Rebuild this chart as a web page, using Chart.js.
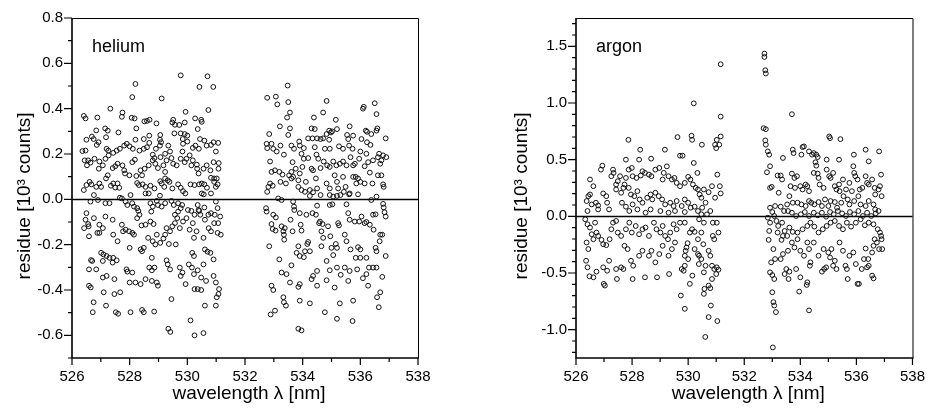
<!DOCTYPE html>
<html><head><meta charset="utf-8">
<script src="https://cdn.jsdelivr.net/npm/chart.js@4.4.1/dist/chart.umd.min.js"></script>
<style>
html,body{margin:0;padding:0;background:#fff;}
#wrap{position:relative;width:935px;height:414px;overflow:hidden;background:#fff;}
.panel{position:absolute;top:0;height:414px;}
</style></head><body>
<div id="wrap">
<div class="panel" style="left:0;width:467px"><canvas id="c1" width="467" height="414"></canvas></div>
<div class="panel" style="left:467px;width:468px"><canvas id="c2" width="468" height="414"></canvas></div>
</div>
<script>
// ---- tick labels ----
const xTicks = [526, 528, 530, 532, 534, 536, 538];
const heliumYTicks = [-0.6, -0.4, -0.2, 0.0, 0.2, 0.4, 0.6, 0.8];
const argonYTicks = [-1.0, -0.5, 0.0, 0.5, 1.0, 1.5];
const xTitle = 'wavelength λ [nm]';
const yTitle = 'residue [10³ counts]';

// ---- helium residues [wavelength nm, residue 10^3 counts] ----
const heliumLeft = [
[529.77,0.547],[530.70,0.543],[528.20,0.509],[530.42,0.496],[530.90,0.496],[528.09,0.451],[529.11,0.445],[527.33,0.400],[530.73,0.394],[529.94,0.386],
[526.41,0.368],[526.47,0.357],[526.88,0.361],[527.75,0.383],[527.73,0.364],[528.07,0.360],[528.17,0.357],[528.51,0.344],[528.60,0.346],[528.69,0.351],
[528.93,0.335],[529.51,0.351],[529.48,0.339],[529.57,0.329],[529.72,0.328],[529.91,0.339],[530.48,0.351],[530.50,0.342],[530.27,0.357],[530.36,0.310],
[529.55,0.291],[529.77,0.291],[529.91,0.288],[530.00,0.281],[529.84,0.266],[529.06,0.284],[529.05,0.263],[528.68,0.281],[528.49,0.266],[528.20,0.263],
[528.23,0.313],[527.15,0.313],[527.61,0.295],[527.24,0.303],[526.84,0.304],[526.69,0.277],[526.75,0.266],[527.18,0.274],[526.50,0.263],[526.36,0.213],
[526.47,0.215],[526.86,0.240],[526.92,0.252],[527.20,0.223],[527.26,0.215],[527.27,0.194],[527.43,0.205],[527.55,0.215],[527.66,0.223],[527.81,0.237],
[527.90,0.245],[528.00,0.234],[528.11,0.223],[528.34,0.215],[528.49,0.223],[528.60,0.230],[528.68,0.249],[528.80,0.197],[528.91,0.223],[529.05,0.237],
[529.09,0.252],[529.23,0.201],[529.40,0.211],[529.34,0.237],[529.83,0.211],[529.85,0.245],[530.00,0.255],[530.19,0.227],[530.28,0.237],[530.40,0.223],
[530.44,0.266],[530.59,0.259],[530.67,0.237],[530.91,0.252],[531.07,0.249],[530.82,0.240],[530.99,0.211],[526.44,0.172],[526.56,0.172],[526.52,0.150],
[526.64,0.162],[526.78,0.179],[526.95,0.167],[527.07,0.150],[527.16,0.179],[526.93,0.135],[527.41,0.138],[527.50,0.146],[527.58,0.157],[527.75,0.150],
[527.81,0.128],[527.84,0.114],[527.99,0.106],[528.09,0.164],[528.18,0.175],[528.38,0.128],[528.43,0.106],[528.52,0.135],[528.66,0.150],[528.80,0.172],
[528.86,0.182],[528.89,0.157],[528.98,0.138],[529.07,0.186],[529.17,0.150],[529.28,0.172],[529.23,0.121],[529.45,0.182],[529.51,0.157],[529.63,0.150],
[529.77,0.179],[529.91,0.164],[529.97,0.179],[530.08,0.194],[530.19,0.172],[530.14,0.150],[530.33,0.153],[530.34,0.135],[530.39,0.114],[530.56,0.135],
[530.67,0.150],[530.80,0.128],[530.91,0.164],[531.09,0.160],[530.93,0.092],[531.02,0.092],[531.08,0.135],[526.41,0.041],[526.50,0.063],[526.61,0.077],
[526.67,0.066],[526.84,0.055],[526.95,0.070],[527.01,0.055],[527.18,0.092],[527.24,0.106],[527.35,0.060],[527.43,0.070],[527.50,0.052],[527.58,0.070],
[527.64,0.051],[526.76,0.019],[526.64,-0.010],[528.23,0.103],[528.32,0.063],[528.26,0.072],[528.45,0.066],[528.55,0.055],[528.72,0.060],[528.66,0.026],
[528.86,0.048],[529.06,0.080],[529.11,0.070],[529.20,0.055],[529.23,0.092],[529.32,0.084],[529.38,0.077],[529.48,0.048],[529.68,0.066],[529.77,0.051],
[529.85,0.036],[529.93,0.026],[530.11,0.066],[530.25,0.063],[530.41,0.066],[530.50,0.070],[530.59,0.066],[530.68,0.051],[530.82,0.095],[530.93,0.077],
[530.99,0.055],[531.05,0.066],[530.57,0.022],[530.50,0.026],[530.82,0.026],[529.05,0.016],[528.55,0.026],[527.66,0.007],[528.03,0.019],[526.90,-0.003],
[527.16,-0.017],[527.30,-0.017],[527.73,0.004],[527.86,-0.010],[527.92,-0.025],[528.09,-0.017],[528.15,-0.032],[528.26,-0.039],[528.30,-0.051],[528.34,-0.068],
[528.72,-0.017],[528.80,-0.032],[528.75,-0.054],[528.94,-0.007],[528.98,-0.025],[529.11,-0.032],[529.23,-0.017],[529.45,-0.007],[529.53,-0.025],[529.68,-0.017],
[529.77,-0.039],[529.68,-0.054],[529.57,-0.068],[529.82,-0.025],[530.02,-0.047],[530.14,-0.051],[530.25,-0.068],[530.36,-0.025],[530.41,-0.051],[530.45,-0.068],
[530.59,-0.036],[530.73,-0.068],[530.82,-0.061],[530.95,-0.068],[530.99,-0.010],[531.05,-0.039],[531.14,-0.076],[531.07,-0.105],[526.50,-0.061],[526.47,-0.090],
[526.56,-0.109],[526.42,-0.127],[526.58,-0.119],[526.76,-0.083],[526.95,-0.112],[527.07,-0.127],[526.95,-0.148],[526.88,-0.148],[526.59,-0.163],[527.16,-0.076],
[527.41,-0.090],[527.43,-0.156],[527.58,-0.185],[527.73,-0.112],[527.77,-0.141],[527.86,-0.134],[527.98,-0.141],[528.09,-0.148],[528.15,-0.156],[528.26,-0.083],
[528.41,-0.115],[528.55,-0.112],[528.72,-0.098],[528.83,-0.109],[528.64,-0.170],[528.80,-0.185],[528.94,-0.156],[529.06,-0.192],[529.17,-0.173],[529.23,-0.156],
[529.28,-0.127],[529.40,-0.141],[529.48,-0.119],[529.57,-0.105],[529.65,-0.083],[529.74,-0.127],[529.85,-0.098],[529.97,-0.083],[530.08,-0.134],[530.19,-0.105],
[530.23,-0.170],[530.39,-0.047],[530.61,-0.090],[530.74,-0.127],[530.82,-0.141],[530.93,-0.105],[531.05,-0.148],[531.16,-0.156],[530.56,-0.170],[530.32,-0.141],
[529.36,-0.197],[529.60,-0.199],[528.49,-0.214],[528.89,-0.199],[528.00,-0.214],[528.38,-0.221],[528.43,-0.229],[527.01,-0.236],[527.09,-0.243],[527.20,-0.250],
[527.30,-0.258],[527.43,-0.258],[527.55,-0.269],[527.41,-0.279],[526.66,-0.268],[526.70,-0.272],[526.59,-0.309],[526.84,-0.309],[527.07,-0.272],[527.20,-0.338],
[527.07,-0.345],[527.47,-0.352],[527.89,-0.309],[527.92,-0.319],[528.09,-0.323],[528.20,-0.367],[528.38,-0.374],[528.00,-0.367],[528.55,-0.352],[528.68,-0.301],
[528.77,-0.313],[528.86,-0.301],[528.77,-0.258],[528.77,-0.360],[528.94,-0.367],[528.98,-0.381],[529.28,-0.269],[529.32,-0.287],[529.40,-0.309],[529.74,-0.301],
[529.83,-0.323],[529.77,-0.338],[529.94,-0.374],[530.17,-0.236],[530.23,-0.250],[530.05,-0.287],[530.16,-0.301],[530.23,-0.330],[530.36,-0.313],[530.48,-0.345],
[530.56,-0.287],[530.61,-0.221],[530.70,-0.231],[530.80,-0.236],[530.91,-0.265],[530.99,-0.367],[530.91,-0.338],[531.10,-0.396],[530.65,-0.360],[530.36,-0.396],
[530.48,-0.400],[530.25,-0.396],[526.65,-0.389],[526.59,-0.381],[526.75,-0.454],[526.72,-0.498],[527.10,-0.410],[527.18,-0.469],[527.47,-0.418],[527.67,-0.410],
[527.52,-0.498],[527.60,-0.505],[528.03,-0.498],[528.43,-0.488],[528.49,-0.498],[528.85,-0.495],[529.45,-0.440],[529.34,-0.571],[529.41,-0.585],[530.11,-0.534],
[530.25,-0.600],[530.56,-0.590],[530.61,-0.469],[530.99,-0.469],[531.02,-0.432],[531.08,-0.418]
];
const heliumRight = [
[533.48,0.502],[532.77,0.448],[533.07,0.453],[533.12,0.419],[533.50,0.429],[534.83,0.434],[533.56,0.383],[533.46,0.361],[534.39,0.361],[534.71,0.383],
[536.12,0.408],[536.09,0.400],[536.50,0.424],[536.56,0.376],[535.15,0.351],[533.21,0.322],[533.56,0.313],[534.31,0.313],[534.42,0.310],[535.63,0.322],
[534.92,0.303],[534.98,0.295],[535.19,0.310],[536.19,0.303],[536.23,0.298],[536.59,0.313],[536.56,0.303],[536.38,0.288],[532.84,0.288],[533.50,0.284],
[532.75,0.245],[532.77,0.226],[532.92,0.245],[532.98,0.223],[533.10,0.211],[533.23,0.237],[533.35,0.197],[533.61,0.237],[533.70,0.223],[533.88,0.255],
[533.90,0.237],[534.04,0.226],[533.96,0.201],[534.19,0.269],[534.34,0.269],[534.50,0.269],[534.62,0.266],[534.71,0.269],[534.83,0.288],[535.02,0.300],
[534.92,0.263],[534.77,0.223],[534.94,0.223],[534.42,0.230],[534.48,0.197],[535.26,0.234],[535.40,0.223],[535.54,0.284],[535.58,0.266],[535.75,0.281],
[535.61,0.237],[535.73,0.223],[536.04,0.266],[536.23,0.252],[536.00,0.211],[536.21,0.201],[536.35,0.240],[536.65,0.201],[536.73,0.172],[536.79,0.194],
[536.88,0.269],[536.90,0.186],[532.87,0.167],[532.92,0.121],[533.04,0.128],[532.87,0.070],[532.81,0.055],[532.77,0.033],[532.96,0.060],[533.19,0.121],
[533.30,0.109],[533.23,0.077],[533.42,0.070],[533.65,0.164],[533.61,0.121],[533.67,0.099],[533.76,0.135],[533.85,0.084],[533.90,0.114],[533.99,0.143],
[534.04,0.179],[534.11,0.077],[534.19,0.182],[534.31,0.135],[534.36,0.128],[534.46,0.092],[534.54,0.179],[534.62,0.138],[534.73,0.167],[534.85,0.150],
[534.94,0.143],[535.06,0.167],[535.17,0.150],[535.29,0.157],[535.40,0.167],[535.52,0.150],[535.66,0.186],[535.75,0.150],[535.81,0.157],[535.96,0.179],
[536.15,0.146],[536.27,0.164],[536.44,0.172],[536.61,0.186],[536.69,0.157],[533.53,0.106],[533.61,0.092],[533.85,0.055],[533.96,0.041],[534.08,0.033],
[534.25,0.041],[534.36,0.031],[534.50,0.048],[534.62,0.019],[534.83,0.070],[534.94,0.048],[535.11,0.106],[535.19,0.077],[535.23,0.048],[535.40,0.099],
[535.49,0.055],[535.43,0.033],[535.63,0.026],[535.75,0.099],[535.84,0.099],[535.92,0.092],[535.86,0.070],[536.00,0.077],[536.15,0.070],[536.42,0.070],
[536.33,0.118],[536.61,0.106],[536.73,0.106],[536.79,0.066],[536.81,0.055],[536.56,0.012],[535.92,0.022],[535.61,0.022],[534.94,0.019],[535.06,0.012],
[535.19,0.015],[535.31,0.019],[534.25,0.015],[533.15,0.004],[533.27,-0.003],[532.73,-0.039],[532.75,-0.054],[532.98,-0.068],[533.07,-0.080],[533.67,-0.010],
[533.70,-0.032],[533.71,-0.047],[534.50,-0.028],[534.94,-0.025],[535.03,-0.022],[535.52,-0.022],[536.38,-0.003],[536.79,-0.020],[536.81,-0.036],[536.84,-0.057],
[536.88,-0.076],[534.46,-0.068],[534.34,-0.061],[534.13,-0.068],[533.90,-0.061],[534.57,-0.105],[534.60,-0.098],[534.69,-0.109],[534.88,-0.119],[534.65,-0.141],
[533.93,-0.112],[533.96,-0.138],[533.58,-0.090],[532.92,-0.109],[532.96,-0.131],[533.06,-0.138],[533.27,-0.119],[533.33,-0.141],[533.35,-0.156],[533.36,-0.178],
[533.38,-0.127],[533.65,-0.141],[532.84,-0.207],[533.19,-0.265],[533.27,-0.323],[533.44,-0.330],[533.61,-0.291],[533.79,-0.236],[533.85,-0.207],[533.90,-0.250],
[534.04,-0.255],[534.08,-0.229],[534.16,-0.197],[534.25,-0.229],[534.19,-0.188],[534.65,-0.207],[534.71,-0.170],[534.96,-0.163],[535.15,-0.197],[535.19,-0.214],
[535.00,-0.214],[535.06,-0.246],[535.23,-0.105],[535.26,-0.115],[535.58,-0.061],[535.63,-0.090],[535.81,-0.098],[535.96,-0.098],[536.04,-0.076],[536.15,-0.105],
[536.21,-0.100],[536.33,-0.112],[536.44,-0.068],[536.53,-0.066],[536.46,-0.134],[536.69,-0.156],[536.76,-0.156],[536.67,-0.185],[536.53,-0.214],[536.56,-0.229],
[536.88,-0.250],[535.46,-0.156],[535.52,-0.185],[535.66,-0.221],[535.92,-0.211],[536.00,-0.221],[535.84,-0.258],[536.00,-0.258],[536.21,-0.258],[536.30,-0.301],
[536.44,-0.301],[536.56,-0.301],[536.21,-0.330],[536.09,-0.348],[535.89,-0.309],[535.63,-0.316],[535.46,-0.301],[535.19,-0.301],[534.94,-0.313],[534.83,-0.272],
[534.50,-0.316],[534.36,-0.338],[534.31,-0.352],[534.50,-0.381],[534.83,-0.357],[535.32,-0.333],[535.58,-0.360],[536.27,-0.381],[536.76,-0.342],[536.69,-0.410],
[536.58,-0.432],[533.56,-0.367],[533.90,-0.374],[533.85,-0.386],[532.92,-0.381],[532.98,-0.400],[533.33,-0.432],[533.35,-0.454],[533.42,-0.469],[533.90,-0.447],
[534.25,-0.459],[535.11,-0.389],[535.29,-0.459],[535.75,-0.447],[536.64,-0.476],[534.77,-0.498],[535.19,-0.527],[535.73,-0.537],[532.89,-0.508],[533.04,-0.491],
[533.85,-0.571],[533.96,-0.578]
];

// ---- argon residues [wavelength nm, residue 10^3 counts] ----
const argonLeft = [
[530.20,0.997],[529.62,0.699],[530.12,0.711],[530.14,0.675],[530.49,0.632],[527.87,0.675],[529.71,0.535],[529.80,0.535],[529.17,0.588],[528.29,0.588],
[527.78,0.500],[528.25,0.500],[528.68,0.509],[530.20,0.471],[526.94,0.447],[526.89,0.412],[526.50,0.325],[526.62,0.266],[526.44,0.178],[526.50,0.193],
[526.38,0.135],[526.41,0.047],[526.56,0.105],[526.71,0.120],[526.79,0.061],[526.79,0.096],[526.97,0.202],[527.08,0.178],[527.11,0.120],[527.18,0.061],
[527.32,0.412],[527.34,0.383],[527.26,0.354],[527.43,0.281],[527.49,0.310],[527.57,0.354],[527.73,0.281],[527.78,0.339],[527.88,0.412],[527.99,0.427],
[528.02,0.354],[528.16,0.339],[528.31,0.360],[528.37,0.398],[528.46,0.383],[528.60,0.368],[528.69,0.354],[528.83,0.412],[528.97,0.427],[529.13,0.383],
[529.24,0.441],[529.09,0.325],[529.30,0.354],[529.42,0.325],[529.51,0.339],[529.59,0.295],[529.71,0.266],[529.88,0.295],[530.00,0.348],[530.08,0.325],
[530.17,0.281],[530.27,0.251],[530.35,0.237],[530.41,0.193],[530.47,0.164],[527.43,0.237],[527.61,0.208],[527.69,0.251],[527.88,0.251],[527.96,0.193],
[528.08,0.178],[528.19,0.222],[528.27,0.149],[528.37,0.120],[528.54,0.164],[528.66,0.193],[528.72,0.149],[528.83,0.208],[528.95,0.178],[529.07,0.149],
[529.18,0.105],[529.36,0.120],[529.48,0.091],[529.59,0.135],[529.77,0.091],[529.88,0.149],[530.00,0.120],[530.09,0.076],[530.23,0.085],[530.35,0.047],
[527.64,0.120],[527.78,0.085],[527.90,0.047],[528.02,0.105],[528.19,0.061],[528.48,0.032],[528.66,0.061],[529.01,0.047],[529.30,0.032],[529.53,0.047],
[529.88,0.038],[530.47,0.018],[526.33,-0.026],[526.41,-0.070],[526.50,-0.099],[526.68,-0.056],[526.73,-0.143],[526.56,-0.158],[526.62,-0.202],[526.79,-0.173],
[526.91,-0.208],[526.97,-0.246],[527.08,-0.254],[527.20,-0.202],[527.26,-0.114],[527.32,-0.056],[527.43,-0.041],[527.49,-0.143],[527.61,-0.173],[527.78,-0.114],
[527.90,-0.056],[527.99,-0.143],[528.13,-0.085],[528.25,-0.158],[528.37,-0.114],[528.48,-0.099],[528.60,-0.173],[528.78,-0.056],[528.87,-0.114],[529.01,-0.143],
[529.09,-0.085],[529.18,-0.173],[529.28,-0.202],[529.36,-0.143],[529.48,-0.070],[529.59,-0.114],[529.71,-0.056],[529.88,-0.056],[530.06,-0.143],[530.14,-0.114],
[530.23,-0.137],[530.35,-0.202],[530.47,-0.143],[526.38,-0.231],[526.44,-0.289],[526.36,-0.392],[526.41,-0.450],[526.48,-0.529],[526.62,-0.538],[526.73,-0.488],
[526.97,-0.450],[526.99,-0.596],[527.03,-0.611],[527.11,-0.480],[527.18,-0.392],[527.43,-0.465],[527.46,-0.553],[527.61,-0.450],[527.69,-0.465],[527.73,-0.260],
[527.84,-0.289],[527.96,-0.392],[528.04,-0.436],[528.02,-0.553],[528.25,-0.348],[528.37,-0.304],[528.46,-0.538],[528.60,-0.348],[528.69,-0.304],[528.83,-0.406],
[528.89,-0.538],[528.97,-0.333],[529.09,-0.260],[529.30,-0.348],[529.32,-0.509],[529.42,-0.289],[529.53,-0.231],[529.77,-0.465],[529.84,-0.480],[529.88,-0.348],
[529.91,-0.304],[529.94,-0.275],[529.98,-0.237],[530.00,-0.377],[529.74,-0.699],[529.88,-0.816],[530.23,-0.289],[530.35,-0.333],[530.38,-0.421],[530.47,-0.377],
[529.88,-0.436],[530.15,-0.523],[530.06,-0.596],[530.58,-0.640],[530.61,-1.064],
[531.16,1.342],[531.16,0.880],[531.16,0.705],[531.02,0.675],[530.96,0.632],[531.11,0.632],[531.00,0.602],[531.04,0.368],[530.33,0.383],[531.13,0.266],
[530.85,0.266],[530.96,0.164],[530.56,0.237],[530.73,0.213],[531.16,0.202],[530.62,0.120],[530.50,0.076],[530.79,0.047],[530.67,0.018],[530.39,-0.026],
[530.56,-0.056],[530.88,-0.056],[531.02,-0.056],[531.08,-0.143],[530.88,-0.173],[530.93,-0.202],[530.54,-0.246],[530.73,-0.304],[530.79,-0.348],[530.39,-0.348],
[530.62,-0.436],[530.56,-0.494],[530.85,-0.436],[530.93,-0.465],[531.02,-0.450],[531.08,-0.471],[531.00,-0.509],[530.85,-0.553],[530.73,-0.611],[530.79,-0.634],
[530.56,-0.684],[530.81,-0.787],[530.73,-0.889],[531.04,-0.924]
];
const argonRight = [
[532.72,1.436],[532.72,1.406],[532.75,1.289],[532.77,1.260],[533.70,0.901],[532.69,0.778],[532.77,0.769],[532.75,0.670],[532.77,0.632],[532.84,0.573],
[532.89,0.544],[532.92,0.442],[533.38,0.515],[532.81,0.389],[533.19,0.360],[533.30,0.360],[533.35,0.325],[532.92,0.251],[532.98,0.260],[533.23,0.208],
[533.73,0.588],[533.76,0.558],[534.08,0.611],[534.13,0.617],[534.04,0.544],[534.31,0.573],[534.42,0.544],[534.48,0.558],[534.57,0.544],[534.62,0.523],
[534.94,0.500],[535.03,0.705],[535.06,0.690],[535.43,0.681],[535.38,0.500],[535.91,0.544],[535.89,0.442],[536.33,0.588],[536.44,0.485],[536.81,0.573],
[534.54,0.477],[534.57,0.447],[533.70,0.377],[533.79,0.339],[533.88,0.354],[533.65,0.266],[533.81,0.251],[534.00,0.266],[534.08,0.237],[534.25,0.266],
[534.31,0.222],[534.19,0.281],[534.48,0.383],[534.62,0.377],[534.65,0.339],[534.69,0.281],[534.83,0.251],[534.94,0.412],[535.03,0.354],[535.08,0.339],
[535.17,0.383],[535.23,0.266],[535.29,0.237],[535.38,0.281],[535.40,0.222],[535.52,0.325],[535.63,0.237],[535.75,0.295],[535.84,0.222],[535.92,0.383],
[535.96,0.354],[536.04,0.325],[536.12,0.237],[536.21,0.251],[536.33,0.354],[536.38,0.295],[536.44,0.281],[536.56,0.325],[536.65,0.251],[536.67,0.193],
[536.79,0.237],[536.88,0.368],[536.84,0.266],[536.90,0.178],[533.61,0.178],[533.53,0.105],[533.73,0.120],[533.90,0.120],[534.04,0.105],[534.19,0.091],
[534.31,0.135],[534.39,0.120],[534.50,0.105],[534.65,0.126],[534.77,0.091],[534.88,0.149],[535.00,0.091],[535.08,0.135],[535.23,0.126],[535.31,0.076],
[535.46,0.120],[535.54,0.178],[535.69,0.149],[535.75,0.105],[535.92,0.135],[536.07,0.178],[536.15,0.105],[536.33,0.091],[536.44,0.135],[536.61,0.105],
[536.67,0.061],[536.79,0.047],[532.92,0.076],[533.00,0.038],[533.10,0.091],[533.30,0.085],[533.42,0.047],[533.56,0.047],[533.70,0.032],[533.85,0.003],
[534.02,0.018],[534.16,0.038],[534.31,0.003],[534.48,0.032],[534.62,0.009],[534.77,0.032],[534.92,-0.003],[535.06,0.038],[535.19,0.018],[535.34,0.047],
[535.49,0.026],[535.63,0.003],[535.77,0.038],[535.92,0.018],[536.07,0.047],[536.23,0.003],[536.38,0.032],[536.53,0.003],[536.69,0.026],[532.84,-0.012],
[532.92,-0.056],[532.89,-0.129],[532.87,-0.208],[533.07,0.003],[533.15,-0.041],[533.21,-0.085],[533.35,-0.056],[533.44,-0.129],[533.61,-0.099],[533.19,-0.143],
[533.38,-0.173],[533.33,-0.208],[533.53,-0.173],[533.73,-0.137],[533.90,-0.143],[534.08,-0.114],[534.25,-0.085],[534.36,-0.056],[534.50,-0.091],[534.65,-0.143],
[534.80,-0.114],[534.94,-0.085],[535.08,-0.056],[535.23,-0.041],[535.38,-0.085],[535.52,-0.114],[535.66,-0.056],[535.81,-0.091],[535.98,-0.056],[536.15,-0.026],
[536.30,-0.079],[536.44,-0.056],[536.61,-0.070],[536.76,-0.114],[536.84,-0.143],[536.88,-0.173],[533.04,-0.289],[533.10,-0.377],[532.96,-0.406],[532.92,-0.494],
[533.00,-0.518],[533.07,-0.553],[533.00,-0.670],[533.04,-0.757],[533.07,-0.787],[533.13,-0.845],[533.02,-1.157],[533.38,-0.333],[533.30,-0.377],[533.56,-0.304],
[533.70,-0.231],[533.79,-0.275],[533.90,-0.202],[534.00,-0.304],[533.50,-0.465],[533.44,-0.509],[533.61,-0.488],[533.85,-0.465],[533.58,-0.553],[534.00,-0.538],
[534.25,-0.231],[534.31,-0.289],[534.13,-0.348],[534.36,-0.406],[534.34,-0.436],[534.25,-0.582],[534.23,-0.605],[533.96,-0.664],[534.31,-0.830],[534.48,-0.231],
[534.65,-0.348],[534.83,-0.289],[534.85,-0.465],[534.92,-0.450],[534.77,-0.488],[535.00,-0.319],[535.06,-0.363],[535.17,-0.436],[535.11,-0.289],[535.23,-0.392],
[535.29,-0.465],[535.40,-0.231],[535.52,-0.304],[535.61,-0.436],[535.66,-0.465],[535.69,-0.553],[535.75,-0.348],[535.89,-0.319],[535.98,-0.421],[536.04,-0.596],
[536.09,-0.596],[536.19,-0.465],[536.27,-0.377],[536.33,-0.284],[536.42,-0.377],[536.44,-0.436],[536.56,-0.319],[536.61,-0.260],[536.65,-0.202],[536.73,-0.231],
[536.81,-0.289],[536.90,-0.202],[536.92,-0.289],[536.56,-0.523],[536.61,-0.547],[536.38,-0.450]
];

const FONT = '"Liberation Sans", Arial, Helvetica, sans-serif';
const INK = '#000';

const decor = {
  id: 'decor',
  beforeDatasetsDraw(chart, args, o) {
    const {ctx, chartArea: a, scales: {y}} = chart;
    const y0 = Math.round(y.getPixelForValue(0)) + 0.5;
    ctx.save();
    ctx.strokeStyle = INK; ctx.lineWidth = 1.7;
    ctx.beginPath(); ctx.moveTo(a.left, y0); ctx.lineTo(a.right, y0); ctx.stroke();
    ctx.restore();
  },
  afterDatasetsDraw(chart, args, o) {
    const {ctx, chartArea: a, scales: {x, y}} = chart;
    ctx.save();
    ctx.strokeStyle = INK;
    // thin top / right frame
    ctx.lineWidth = 1;
    ctx.beginPath();
    ctx.moveTo(a.left, a.top + 0.5); ctx.lineTo(a.right + 0.5, a.top + 0.5); ctx.lineTo(a.right + 0.5, a.bottom);
    ctx.stroke();
    // thicker left / bottom axes
    ctx.lineWidth = 1.6;
    ctx.beginPath();
    ctx.moveTo(a.left, a.top); ctx.lineTo(a.left, a.bottom); ctx.lineTo(a.right + 1, a.bottom);
    ctx.stroke();
    // x ticks
    ctx.lineWidth = 1.2;
    ctx.beginPath();
    for (let v = x.min; v <= x.max + 1e-9; v += 1) {
      const px = x.getPixelForValue(v);
      const major = xTicks.includes(Math.round(v));
      ctx.moveTo(px, a.bottom); ctx.lineTo(px, a.bottom + (major ? 7 : 4));
    }
    // y ticks
    const n = Math.round((y.max - y.min) / o.minor);
    for (let i = 0; i <= n + 1; i++) {
      const v = Math.ceil(y.min / o.minor - 1e-6) * o.minor + i * o.minor;
      if (v > y.max + 1e-9) break;
      const py = y.getPixelForValue(v);
      const major = o.yTicks.some(t => Math.abs(t - v) < 1e-6);
      ctx.moveTo(a.left, py); ctx.lineTo(a.left - (major ? 8 : 4), py);
    }
    ctx.stroke();
    // panel label
    ctx.fillStyle = INK;
    ctx.font = '18px ' + FONT;
    ctx.textBaseline = 'middle';
    ctx.textAlign = 'left';
    ctx.fillText(o.label, a.left + 20, a.top + 29);
    // axis titles
    ctx.font = '19px ' + FONT;
    ctx.textAlign = 'center';
    ctx.fillText(xTitle, (a.left + a.right) / 2 + 4, 394);
    ctx.translate(o.yTitleX, o.yTitleY);
    ctx.rotate(-Math.PI / 2);
    ctx.fillText(yTitle, 0, 0);
    ctx.restore();
  }
};

function makeChart(id, label, sets, yMin, yMax, yTicks, minor, yWidth, yTitleX, padRight) {
  const datasets = sets.map(pts => ({
    data: pts.map(p => ({x: p[0], y: p[1]})),
    pointStyle: 'circle',
    pointRadius: 2.4,
    pointBorderWidth: 1,
    pointBorderColor: '#111',
    pointBackgroundColor: 'rgba(255,255,255,0)',
    showLine: false
  }));
  return new Chart(document.getElementById(id), {
    type: 'scatter',
    data: {datasets},
    plugins: [decor],
    options: {
      responsive: false, animation: false, devicePixelRatio: 1,
      layout: {padding: {top: 15, right: padRight, left: 0, bottom: 0}},
      plugins: {legend: {display: false}, tooltip: {enabled: false},
        decor: {label, minor, yTicks, yTitleX, yTitleY: 196}},
      scales: {
        x: {
          type: 'linear', min: 526, max: 538,
          grid: {display: false, drawTicks: false}, border: {display: false},
          afterBuildTicks: s => { s.ticks = xTicks.map(v => ({value: v})); },
          afterFit: s => { s.height = 56; },
          ticks: {padding: 10, color: INK, font: {family: FONT, size: 15}, maxRotation: 0, callback: v => String(v)},
          title: {display: false}
        },
        y: {
          type: 'linear', min: yMin, max: yMax,
          grid: {display: false, drawTicks: false}, border: {display: false},
          afterBuildTicks: s => { s.ticks = yTicks.map(v => ({value: v})); },
          afterFit: s => { s.width = yWidth; },
          ticks: {padding: 9, color: INK, font: {family: FONT, size: 15}, callback: v => Number(v).toFixed(1)},
          title: {display: false}
        }
      }
    }
  });
}

makeChart('c1', 'helium', [heliumLeft, heliumRight], -0.7, 0.8, heliumYTicks, 0.1, 72, 25, 49);
makeChart('c2', 'argon', [argonLeft, argonRight], -1.25, 1.75, argonYTicks, 0.1, 109, 55, 13);
</script>
</body></html>
